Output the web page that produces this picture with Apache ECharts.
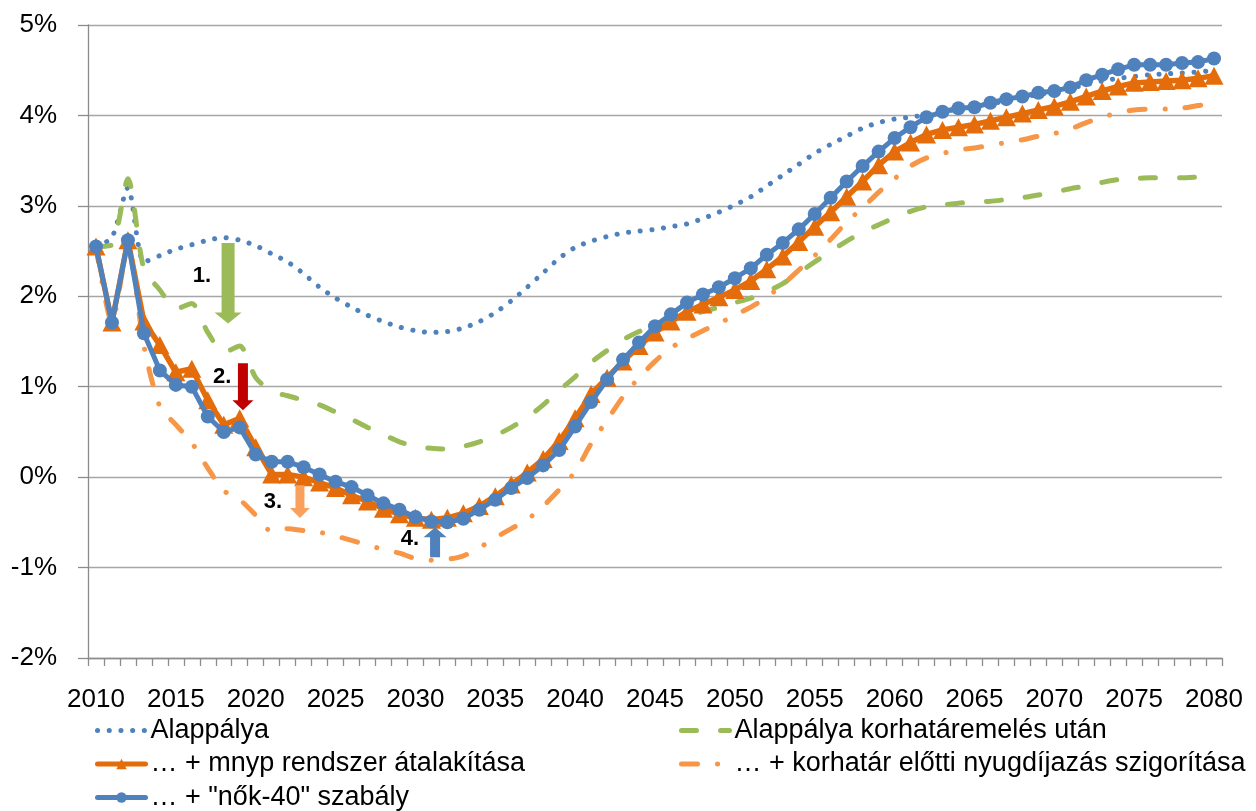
<!DOCTYPE html>
<html>
<head>
<meta charset="utf-8">
<script src="https://cdn.jsdelivr.net/npm/echarts@6/dist/echarts.min.js"></script>
<style>html,body{margin:0;padding:0;background:#fff;}#c{width:1256px;height:811px;}</style>
</head>
<body>
<div id="c"></div>
<script>
// ---- data ----
const years = [];
for (let y = 2010; y <= 2080; y++) years.push(String(y));

const seriesNames = [
  'Alappálya',
  'Alappálya korhatáremelés után',
  '… + korhatár előtti nyugdíjazás szigorítása',
  '… + mnyp rendszer átalakítása',
  '… + "nők-40" szabály'
];

const alappalya = [
  2.55,2.65,3.2,2.38,2.45,2.52,2.57,2.62,2.65,2.62,
  2.56,2.47,2.38,2.25,2.1,1.98,1.88,1.79,1.72,1.66,
  1.62,1.6,1.61,1.65,1.72,1.82,1.95,2.1,2.26,2.42,
  2.54,2.61,2.66,2.7,2.72,2.74,2.77,2.8,2.86,2.93,
  3.01,3.1,3.22,3.34,3.46,3.58,3.68,3.77,3.86,3.92,
  3.96,3.98,4.01,4.04,4.07,4.1,4.13,4.16,4.2,4.23,
  4.26,4.3,4.34,4.38,4.41,4.43,4.45,4.46,4.47,4.48,4.5
];
const korhatarEmeles = [
  2.55,2.57,3.3,2.3,2.07,1.86,1.92,1.6,1.38,1.45,
  1.1,0.95,0.9,0.85,0.8,0.72,0.64,0.55,0.47,0.39,
  0.34,0.32,0.31,0.34,0.39,0.46,0.55,0.66,0.8,0.96,
  1.11,1.27,1.4,1.52,1.61,1.68,1.74,1.79,1.83,1.88,
  1.93,1.98,2.05,2.14,2.26,2.38,2.5,2.61,2.71,2.79,
  2.87,2.94,2.99,3.01,3.03,3.04,3.05,3.07,3.09,3.12,
  3.15,3.19,3.22,3.26,3.29,3.3,3.31,3.31,3.31,3.32,3.33
];
const szigoritas = [
  2.55,1.71,2.55,1.45,0.78,0.58,0.38,0.1,-0.15,-0.25,
  -0.42,-0.6,-0.57,-0.59,-0.61,-0.65,-0.7,-0.75,-0.8,-0.84,
  -0.9,-0.92,-0.91,-0.87,-0.78,-0.67,-0.57,-0.47,-0.32,-0.14,
  0.06,0.37,0.63,0.89,1.1,1.28,1.43,1.53,1.62,1.7,
  1.79,1.88,1.99,2.13,2.29,2.45,2.63,2.82,2.98,3.15,
  3.3,3.44,3.53,3.58,3.62,3.64,3.67,3.7,3.73,3.77,
  3.8,3.85,3.92,3.98,4.03,4.06,4.07,4.07,4.08,4.11,4.13
];
const mnyp = [
  2.55,1.71,2.62,1.72,1.46,1.16,1.2,0.85,0.58,0.65,
  0.33,0.03,0.03,0.0,-0.06,-0.12,-0.2,-0.27,-0.35,-0.41,
  -0.45,-0.47,-0.45,-0.4,-0.32,-0.21,-0.08,0.05,0.2,0.4,
  0.65,0.92,1.1,1.28,1.45,1.6,1.72,1.83,1.91,1.99,
  2.07,2.17,2.3,2.44,2.6,2.77,2.93,3.1,3.27,3.45,
  3.6,3.7,3.79,3.84,3.87,3.9,3.94,3.98,4.02,4.06,
  4.1,4.15,4.21,4.27,4.32,4.36,4.37,4.38,4.39,4.41,4.44
];
const nok40 = [
  2.55,1.71,2.62,1.59,1.18,1.02,1.0,0.67,0.5,0.55,
  0.25,0.17,0.17,0.11,0.03,-0.05,-0.11,-0.2,-0.29,-0.36,
  -0.44,-0.49,-0.5,-0.46,-0.36,-0.25,-0.12,-0.01,0.13,0.3,
  0.56,0.83,1.08,1.3,1.49,1.67,1.8,1.93,2.02,2.1,
  2.2,2.31,2.46,2.59,2.74,2.91,3.09,3.27,3.44,3.6,
  3.75,3.87,3.98,4.04,4.08,4.09,4.14,4.18,4.21,4.25,
  4.27,4.31,4.39,4.45,4.51,4.56,4.56,4.56,4.58,4.59,4.63
];

// annotation arrows (year, from %, to %)
const arrowYear = [2018.27, 2019.2, 2022.77, 2031.23];
const arrowFrom = [2.59, 1.26, -0.09, -0.885];
const arrowTo   = [1.70, 0.74, -0.453, -0.553];
// annotation labels
const noteText = ['1.', '2.', '3.', '4.'];
const noteYear = [2016.64, 2017.9, 2021.08, 2029.66];
const noteVal  = [2.22, 1.106, -0.276, -0.686];

// ---- styles ----
const arrowStyle = [
  {color:'#9BBB59', sw:13, hw:27, hh:11},
  {color:'#C00000', sw:10, hw:21, hh:10},
  {color:'#F9A05C', sw:9, hw:20, hh:10},
  {color:'#4F81BD', sw:10, hw:23, hh:10}
];
const FONT = 'Liberation Sans';
const gridColor = '#A6A6A6';
const axisColor = '#8C8C8C';
const legendText = {fontFamily: FONT, fontSize: 27, color: '#000', lineHeight: 27};
const legendLine = {width: 5, cap: 'round'};
const noSymbol = {opacity: 0};

const chart = echarts.init(document.getElementById('c'), null, {renderer:'canvas'});

const option = {
  backgroundColor: '#fff',
  animation: false,
  textStyle: {fontFamily: FONT},
  grid: {left: 88, right: 34, top: 25, bottom: 153, containLabel: false},
  legend: [
    {
      data: [
        {name: seriesNames[0], itemStyle: noSymbol},
        {name: seriesNames[3]},
        {name: seriesNames[4]}
      ],
      orient: 'vertical', left: 95, top: 717, padding: 0,
      itemWidth: 48, itemHeight: 13, itemGap: 6.5,
      lineStyle: legendLine,
      textStyle: legendText
    },
    {
      data: [
        {name: seriesNames[1], itemStyle: noSymbol},
        {name: seriesNames[2], itemStyle: noSymbol}
      ],
      orient: 'vertical', left: 679, top: 717, padding: 0,
      itemWidth: 48, itemHeight: 13, itemGap: 6.5,
      lineStyle: legendLine,
      textStyle: legendText
    }
  ],
  xAxis: [
    {
      type: 'category', data: years, boundaryGap: true, position: 'bottom',
      axisLine: {show: false}, axisTick: {show: false}, splitLine: {show: false},
      axisLabel: {interval: 4, margin: 29, fontSize: 26, color: '#000', fontFamily: FONT}
    },
    {
      type: 'category', data: years, boundaryGap: true, position: 'bottom',
      axisLine: {show: true, onZero: true, lineStyle: {color: axisColor, width: 1.3}},
      axisTick: {show: true, interval: 0, length: 8, lineStyle: {color: axisColor, width: 1.3}},
      axisLabel: {show: false}, splitLine: {show: false}
    },
    {
      type: 'value', min: 2009.5, max: 2080.5, show: false
    }
  ],
  yAxis: {
    type: 'value', min: -2, max: 5, interval: 1,
    axisLine: {show: true, lineStyle: {color: axisColor, width: 1.3}},
    axisTick: {show: true, length: 10, lineStyle: {color: axisColor, width: 1.3}},
    splitLine: {show: true, lineStyle: {color: gridColor, width: 1.3}},
    axisLabel: {formatter: '{value}%', fontSize: 26, color: '#000', margin: 31, fontFamily: FONT}
  },
  series: [
    {
      name: seriesNames[0], type: 'line', data: alappalya, xAxisIndex: 0,
      symbol: 'none', smooth: 0.25, z: 2,
      itemStyle: {color: '#4F81BD'},
      lineStyle: {color: '#4F81BD', width: 5, type: [0.1, 11.6], cap: 'round'}
    },
    {
      name: seriesNames[1], type: 'line', data: korhatarEmeles, xAxisIndex: 0,
      symbol: 'none', smooth: 0.25, z: 2,
      itemStyle: {color: '#9BBB59'},
      lineStyle: {color: '#9BBB59', width: 5, type: [15, 24], cap: 'round'}
    },
    {
      name: seriesNames[2], type: 'line', data: szigoritas, xAxisIndex: 0,
      symbol: 'none', smooth: 0.25, z: 2,
      itemStyle: {color: '#F79646'},
      lineStyle: {color: '#F79646', width: 5, type: [16, 20, 0.1, 20], cap: 'round'}
    },
    {
      name: seriesNames[3], type: 'line', data: mnyp, xAxisIndex: 0,
      symbol: 'triangle', symbolSize: [19, 18], showAllSymbol: true, z: 3,
      itemStyle: {color: '#E46C0A'},
      lineStyle: {color: '#E46C0A', width: 5.5}
    },
    {
      name: seriesNames[4], type: 'line', data: nok40, xAxisIndex: 0,
      symbol: 'circle', symbolSize: 14, showAllSymbol: true, z: 4,
      itemStyle: {color: '#4F81BD'},
      lineStyle: {color: '#4F81BD', width: 5}
    },
    {
      type: 'custom', xAxisIndex: 2, yAxisIndex: 0, z: 10, silent: true,
      data: arrowYear.map((x, i) => [x, arrowFrom[i], arrowTo[i], i]),
      renderItem: function (params, api) {
        const st = arrowStyle[api.value(3)];
        const p0 = api.coord([api.value(0), api.value(1)]);
        const p1 = api.coord([api.value(0), api.value(2)]);
        const dir = p1[1] > p0[1] ? 1 : -1;
        const x = p0[0], s = st.sw / 2, h = st.hw / 2, hb = p1[1] - dir * st.hh;
        return {
          type: 'polygon',
          shape: {points: [[x - s, p0[1]], [x + s, p0[1]], [x + s, hb], [x + h, hb], [x, p1[1]], [x - h, hb], [x - s, hb]]},
          style: {fill: st.color}
        };
      }
    },
    {
      type: 'custom', xAxisIndex: 2, yAxisIndex: 0, z: 11, silent: true,
      data: noteYear.map((x, i) => [x, noteVal[i], i]),
      renderItem: function (params, api) {
        const p = api.coord([api.value(0), api.value(1)]);
        return {
          type: 'text', x: p[0], y: p[1],
          style: {
            text: noteText[api.value(2)], fontSize: 22, fontWeight: 'bold', fontFamily: FONT,
            fill: '#000', align: 'center', verticalAlign: 'middle',
            textAlign: 'center', textVerticalAlign: 'middle'
          }
        };
      }
    }
  ]
};
chart.setOption(option);
</script>
</body>
</html>
